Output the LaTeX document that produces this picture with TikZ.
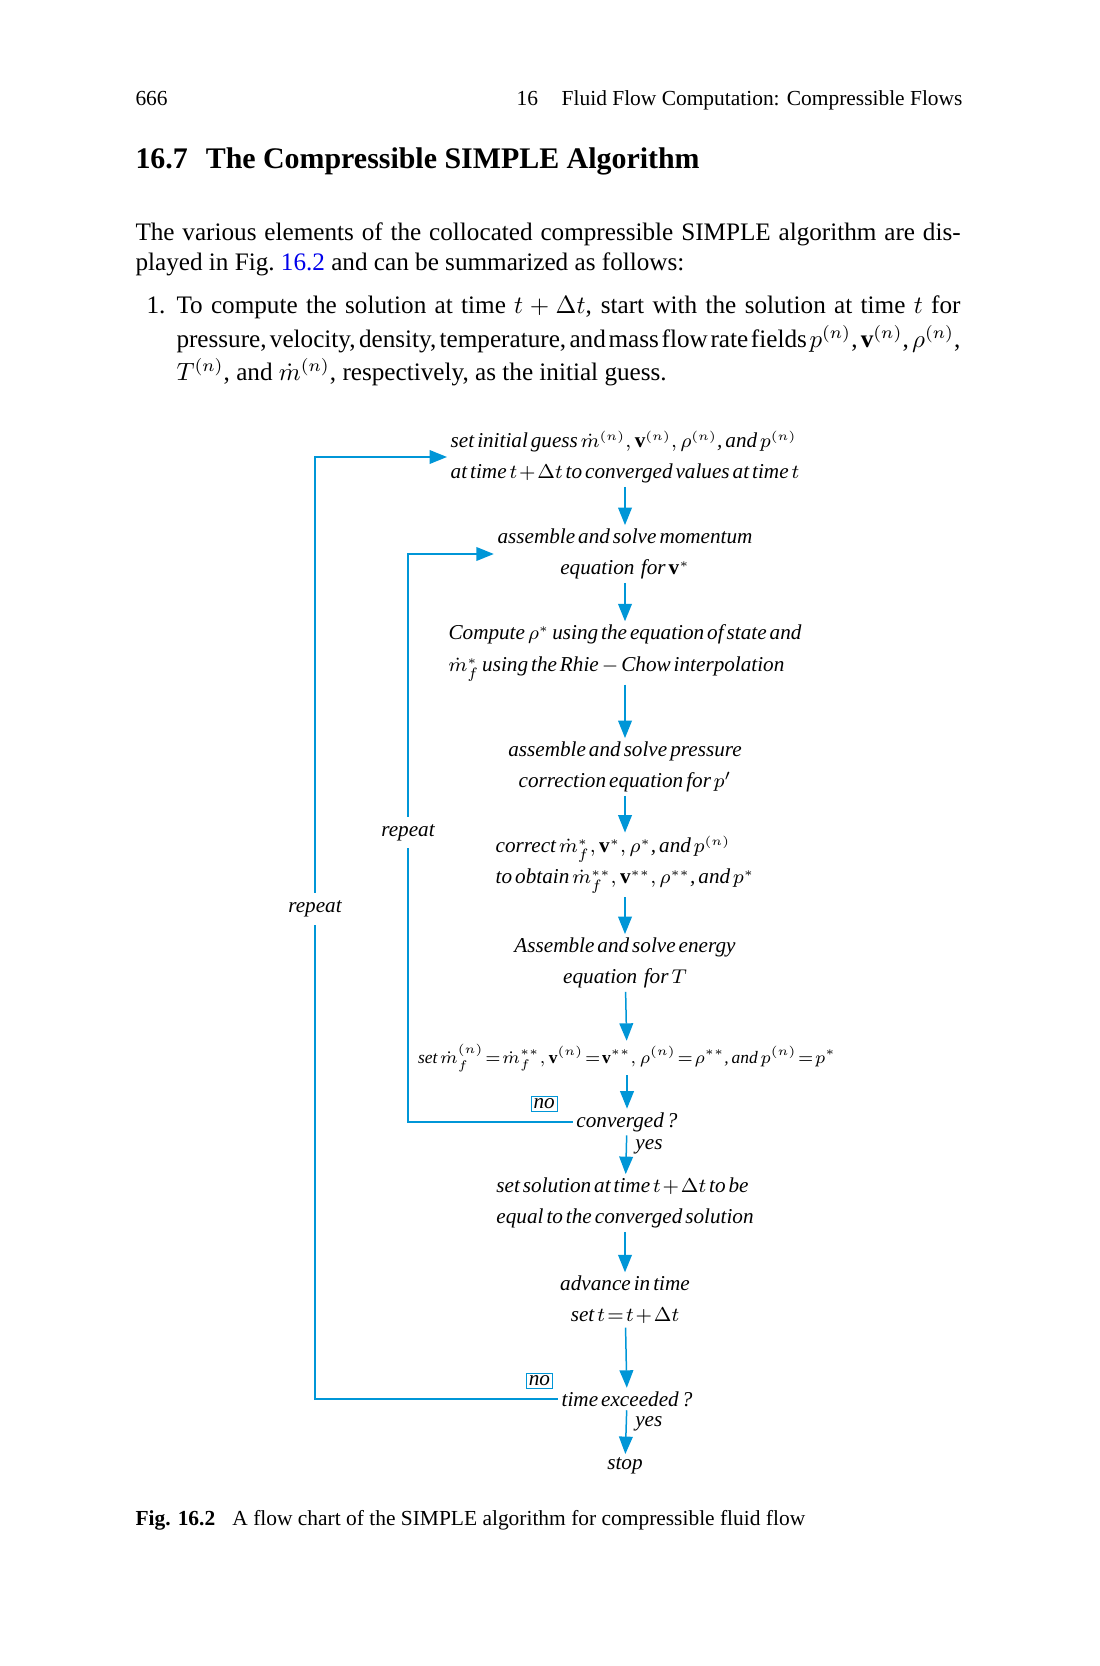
\documentclass[tikz,border=0pt]{standalone}
\usepackage{fontspec}
\setmainfont{Liberation Serif}
\usepackage{amsmath}
\usetikzlibrary{arrows.meta, positioning, calc}
\definecolor{flowblue}{RGB}{0,150,215}
\definecolor{linkblue}{RGB}{0,0,235}

\newcommand{\flowfont}{\fontsize{8.5}{12.5}\selectfont\itshape\spaceskip=1.2pt plus 0.5pt\relax\medmuskip=1.5mu\relax\thickmuskip=2mu\relax}
\newcommand{\widefont}{\fontsize{7}{10}\selectfont\itshape\spaceskip=1.1pt plus 0.5pt\relax\medmuskip=1.5mu\relax\thickmuskip=1.5mu\relax}
\newcommand{\bodyfont}{\fontsize{10.1}{12}\selectfont}
\newcommand{\justline}[2]{\makebox[#1][s]{\spaceskip=0.22em plus 0.3em minus 0.12em\relax #2}}
\newcommand{\nn}{^{(n)}}
\newcommand{\fn}{^{\scriptscriptstyle(n)}}
\newcommand{\fst}{^{\scriptscriptstyle*}}
\newcommand{\fss}{^{\scriptscriptstyle**}}

\tikzset{
  stepbox/.style={font=\flowfont, align=center, inner sep=1.5pt, outer sep=0pt},
  flowarrow/.style={-{Triangle[length=7pt,width=5.5pt]}, line width=0.6pt, draw=flowblue},
  nobox/.style={draw=flowblue, line width=0.4pt, inner sep=1pt, font=\flowfont},
  looplabel/.style={fill=white, inner sep=3pt, font=\flowfont},
  bodytext/.style={anchor=base west, inner sep=0pt, font=\bodyfont},
}

\begin{document}
\begin{tikzpicture}[x=0.014104cm, y=-0.014104cm]
  \useasboundingbox (0,0) rectangle (1099,1666);

  % Page head
  \node[bodytext, font=\fontsize{8.6}{11}\selectfont] (pgnum) at (135,106) {666};
  \node[bodytext, anchor=base east, font=\fontsize{8.6}{11}\selectfont] (runhead) at (963,106) {16\hspace{1.1em}Fluid Flow Computation: Compressible Flows};

  % Section title
  \node[bodytext, font=\fontsize{12}{14}\selectfont\bfseries] (sectitle) at (135,169) {16.7\hspace{0.6em}The Compressible SIMPLE Algorithm};

  % Paragraph
  \node[bodytext] (para1) at (135,241) {\justline{331pt}{The various elements of the collocated compressible SIMPLE algorithm are dis-}};
  \node[bodytext] (para2) at (135,271) {played in Fig.~\textcolor{linkblue}{16.2} and can be summarized as follows:};

  % List item
  \node[bodytext] (itemnum) at (146,314) {1.};
  \node[bodytext] (item1) at (176,314) {\justline{314.5pt}{To compute the solution at time $t+\Delta t$, start with the solution at time $t$ for}};
  \node[bodytext] (item2) at (176,348) {\justline{314.5pt}{pressure, velocity, density, temperature, and mass flow rate fields $p\nn$, $\mathbf{v}\nn$, $\rho\nn$,}};
  \node[bodytext] (item3) at (176,381) {$T\nn$, and $\dot m\nn$, respectively, as the initial guess.};

  % Flow chart steps
  \node[stepbox, align=left] (init) at (625,457) {set initial guess $\dot m\fn,\mathbf{v}\fn,\rho\fn$, and $p\fn$\\at time $t+\Delta t$ to converged values at time $t$};
  \node[stepbox] (mom) at (625,554) {assemble and solve momentum\\equation\, for $\mathbf{v}\fst$};
  \node[stepbox, align=left] (comp) at (625,653) {Compute $\rho\fst$ using the equation of state and\\$\dot m_f\fst$ using the Rhie $-$ Chow interpolation};
  \node[stepbox] (press) at (625,767) {assemble and solve pressure\\correction equation for $p'$};
  \node[stepbox, align=left] (corr) at (625,865) {correct $\dot m_f\fst,\mathbf{v}\fst,\rho\fst$, and $p\fn$\\to obtain $\dot m_f\fss,\mathbf{v}\fss,\rho\fss$, and $p\fst$};
  \node[stepbox] (energy) at (625,963) {Assemble and solve energy\\equation\, for $T$\hspace{2em}};
  \node[stepbox, font=\widefont] (setn) at (627,1058) {set $\dot m_f\fn=\dot m_f\fss,\mathbf{v}\fn=\mathbf{v}\fss,\rho\fn=\rho\fss$, and $p\fn=p\fst$};
  \node[stepbox] (conv) at (627,1122) {converged ?};
  \node[stepbox, align=left] (setsol) at (625,1203) {set solution at time $t+\Delta t$ to be\\equal to the converged solution};
  \node[stepbox] (adv) at (625,1300) {advance in time\\set $t=t+\Delta t$};
  \node[stepbox] (timeex) at (627,1399) {time exceeded ?};
  \node[stepbox] (stop) at (625,1466) {stop};

  % no labels
  \node[nobox, above left=4pt and 6pt of conv.west] (no1) {no};
  \node[nobox, above left=4pt and 2pt of timeex.west] (no2) {no};

  % Main column
  \draw[flowarrow] (init) -- (mom);
  \draw[flowarrow] (mom) -- (comp);
  \draw[flowarrow] (comp) -- (press);
  \draw[flowarrow] (press) -- (corr);
  \draw[flowarrow] (corr) -- (energy);
  \draw[flowarrow] (energy) -- (setn);
  \draw[flowarrow] (setn) -- (conv);
  \draw[flowarrow] (conv) -- node[right, pos=0.3, font=\flowfont] (yes1) {yes} (setsol);
  \draw[flowarrow] (setsol) -- (adv);
  \draw[flowarrow] (adv) -- (timeex);
  \draw[flowarrow] (timeex) -- node[right, pos=0.3, font=\flowfont] (yes2) {yes} (stop);

  % Loops
  \coordinate (innerx) at (408,0);
  \coordinate (outerx) at (315,0);
  \draw[flowarrow] (conv.west) -- (conv.west -| innerx) -- node[looplabel, pos=0.51] (rep1) {repeat} (mom.west -| innerx) -- (mom.west);
  \draw[flowarrow] (timeex.west) -- (timeex.west -| outerx) -- node[looplabel, pos=0.52] (rep2) {repeat} (init.west -| outerx) -- (init.west);

  % Caption
  \node[bodytext, font=\fontsize{8.6}{11}\selectfont] (caption) at (135,1525) {\textbf{Fig. 16.2}\hspace{0.8em}A flow chart of the SIMPLE algorithm for compressible fluid flow};
\end{tikzpicture}
\end{document}
